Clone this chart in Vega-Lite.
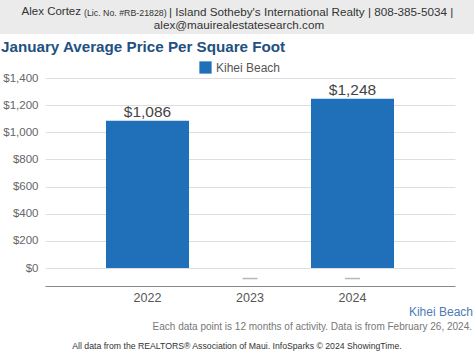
{
  "$schema": "https://vega.github.io/schema/vega-lite/v6.json",
  "autosize": {"type": "none"},
  "padding": {"left": 45, "top": 78, "right": 19, "bottom": 69},
  "width": 410,
  "height": 208,
  "background": "white",
  "config": {
    "font": "Liberation Sans",
    "view": {"stroke": null},
    "axisY": {
      "orient": "left",
      "title": null, "values": [0, 200, 400, 600, 800, 1000, 1200, 1400],
      "format": "$,.0f", "labelFontSize": 11.5, "labelColor": "#666",
      "domain": false, "ticks": false, "labelPadding": 7, "labelOverlap": false,
      "grid": true, "gridColor": "#dedede"
    }
  },
  "datasets": {
    "prices": [
      {"year": "2022", "price": 1086, "area": "Kihei Beach"},
      {"year": "2023", "price": null, "area": "Kihei Beach"},
      {"year": "2024", "price": 1248, "area": "Kihei Beach"}
    ],
    "markers": [
      {"year": "2023"},
      {"year": "2024"}
    ],
    "one": [{"k": 1}]
  },
  "resolve": {"scale": {"x": "independent", "y": "independent"}, "axis": {"x": "independent", "y": "independent"}},
  "layer": [
    {
      "data": {"name": "one"},
      "layer": [
        {
          "mark": {"type": "rect", "color": "#ebebeb", "clip": false},
          "encoding": {
            "x": {"datum": 0, "type": "quantitative", "scale": {"domain": [45, 455], "zero": false, "nice": false}, "axis": null},
            "x2": {"datum": 474},
            "y": {"datum": 0, "type": "quantitative", "scale": {"domain": [286, 78], "zero": false, "nice": false}, "axis": null},
            "y2": {"datum": 34}
          }
        },
        {
          "mark": {"type": "text", "align": "right", "baseline": "middle", "fontSize": 11.5, "color": "#333"},
          "encoding": {
            "text": {"value": "Alex Cortez"},
            "x": {"datum": 81, "type": "quantitative"},
            "y": {"datum": 12, "type": "quantitative"}
          }
        },
        {
          "mark": {"type": "text", "align": "left", "baseline": "middle", "fontSize": 8.8, "color": "#333"},
          "encoding": {
            "text": {"value": "(Lic. No. #RB-21828)"},
            "x": {"datum": 84, "type": "quantitative"},
            "y": {"datum": 12.5, "type": "quantitative"}
          }
        },
        {
          "mark": {"type": "text", "align": "left", "baseline": "middle", "fontSize": 11.7, "color": "#333"},
          "encoding": {
            "text": {"value": "| Island Sotheby's International Realty | 808-385-5034 |"},
            "x": {"datum": 169, "type": "quantitative"},
            "y": {"datum": 12, "type": "quantitative"}
          }
        },
        {
          "mark": {"type": "text", "align": "center", "baseline": "middle", "fontSize": 11.7, "color": "#333"},
          "encoding": {
            "text": {"value": "alex@mauirealestatesearch.com"},
            "x": {"datum": 239, "type": "quantitative"},
            "y": {"datum": 25, "type": "quantitative"}
          }
        },
        {
          "mark": {"type": "text", "align": "left", "baseline": "middle", "fontSize": 15.2, "fontWeight": "bold", "color": "#22507f"},
          "encoding": {
            "text": {"value": "January Average Price Per Square Foot"},
            "x": {"datum": 1, "type": "quantitative"},
            "y": {"datum": 47, "type": "quantitative"}
          }
        },
        {
          "mark": {"type": "text", "align": "right", "baseline": "middle", "fontSize": 12, "color": "#4f7bb5"},
          "encoding": {
            "text": {"value": "Kihei Beach"},
            "x": {"datum": 473, "type": "quantitative"},
            "y": {"datum": 312, "type": "quantitative"}
          }
        },
        {
          "mark": {"type": "text", "align": "right", "baseline": "middle", "fontSize": 10, "color": "#777"},
          "encoding": {
            "text": {"value": "Each data point is 12 months of activity. Data is from February 26, 2024."},
            "x": {"datum": 472, "type": "quantitative"},
            "y": {"datum": 327, "type": "quantitative"}
          }
        },
        {
          "mark": {"type": "text", "align": "center", "baseline": "middle", "fontSize": 8.7, "color": "#333"},
          "encoding": {
            "text": {"value": "All data from the REALTORS® Association of Maui. InfoSparks © 2024 ShowingTime."},
            "x": {"datum": 237, "type": "quantitative"},
            "y": {"datum": 346, "type": "quantitative"}
          }
        }
      ]
    },
    {
      "layer": [
        {
          "data": {"name": "prices"},
          "mark": {"type": "bar", "color": "#1f6fb9"},
          "encoding": {
            "x": {
              "field": "year", "type": "ordinal",
              "scale": {"domain": ["2022", "2023", "2024"], "paddingInner": 0.19, "paddingOuter": 0.595},
              "axis": {
                "orient": "bottom",
                "title": null, "labelAngle": 0, "labelFontSize": 12.5, "labelColor": "#555",
                "domainColor": "#888", "ticks": false, "labelPadding": 5, "grid": false
              }
            },
            "y": {
              "field": "price", "type": "quantitative",
              "scale": {"domain": [-132, 1400], "nice": false, "zero": false},
              "axis": {
                "orient": "left",
                "title": null, "values": [0, 200, 400, 600, 800, 1000, 1200, 1400],
                "format": "$,.0f", "labelFontSize": 11.5, "labelColor": "#666",
                "domain": false, "ticks": false, "labelPadding": 7, "labelOverlap": false,
                "grid": true, "gridColor": "#dedede"
              }
            },
            "y2": {"datum": 0},
            "color": {
              "field": "area", "type": "nominal",
              "scale": {"range": ["#1f6fb9"]},
              "legend": {
                "title": null, "orient": "none", "legendX": 154, "legendY": -17,
                "symbolType": "square", "symbolSize": 150, "symbolStrokeWidth": 0,
                "labelFontSize": 12, "labelColor": "#555"
              }
            }
          }
        },
        {
          "data": {"name": "prices"},
          "mark": {"type": "text", "baseline": "bottom", "dy": -1, "fontSize": 15.5, "color": "#444"},
          "encoding": {
            "x": {"field": "year", "type": "ordinal"},
            "y": {
              "field": "price", "type": "quantitative",
              "axis": {
                "orient": "left",
                "title": null, "values": [0, 200, 400, 600, 800, 1000, 1200, 1400],
                "format": "$,.0f", "labelFontSize": 11.5, "labelColor": "#666",
                "domain": false, "ticks": false, "labelPadding": 7, "labelOverlap": false,
                "grid": true, "gridColor": "#dedede"
              }
            },
            "text": {"field": "price", "type": "quantitative", "format": "$,.0f"}
          }
        },
        {
          "data": {"name": "markers"},
          "mark": {"type": "tick", "orient": "horizontal", "size": 15, "thickness": 1.5, "color": "#999"},
          "encoding": {
            "x": {"field": "year", "type": "ordinal"},
            "y": {
              "datum": -77, "type": "quantitative",
              "axis": {
                "orient": "left",
                "title": null, "values": [0, 200, 400, 600, 800, 1000, 1200, 1400],
                "format": "$,.0f", "labelFontSize": 11.5, "labelColor": "#666",
                "domain": false, "ticks": false, "labelPadding": 7, "labelOverlap": false,
                "grid": true, "gridColor": "#dedede"
              }
            }
          }
        }
      ]
    }
  ]
}
